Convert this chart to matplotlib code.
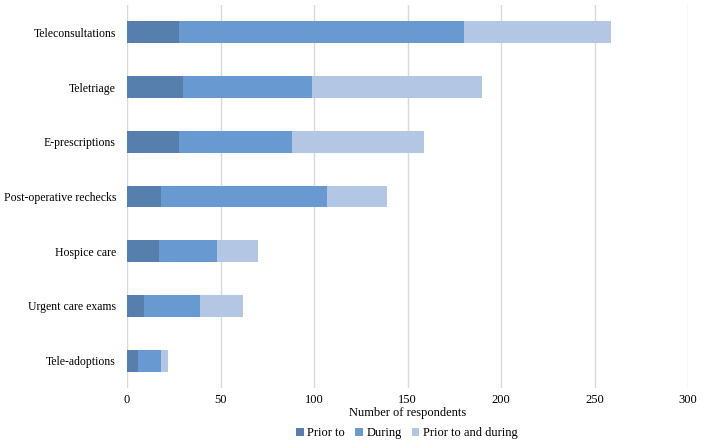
import matplotlib.pyplot as plt
import numpy as np

# Data
categories = ['Teleconsultations', 'Teletriage', 'E-prescriptions',
              'Post-operative rechecks', 'Hospice care', 'Urgent care exams',
              'Tele-adoptions']
prior_to = [28, 30, 28, 18, 17, 9, 6]
during = [152, 69, 60, 89, 31, 30, 12]
prior_and_during = [79, 91, 71, 32, 22, 23, 4]

series_names = ['Prior to', 'During', 'Prior to and during']
colors = ['#577fae', '#6899d0', '#b3c6e4']

plt.rcParams['font.family'] = ['Liberation Serif', 'DejaVu Serif']

fig = plt.figure(figsize=(7.08, 4.48), dpi=100)
ax = fig.add_axes([127 / 708, 1 - 388 / 448, (688 - 127) / 708, (388 - 5) / 448])

y = np.arange(len(categories))
left = np.zeros(len(categories))
for name, vals, c in zip(series_names, [prior_to, during, prior_and_during], colors):
    ax.barh(y, vals, left=left, height=0.4, color=c, label=name, zorder=3)
    left += np.array(vals)

ax.set_ylim(len(categories) - 0.5, -0.5)
ax.set_yticks(y)
ax.set_yticklabels(categories, fontsize=8.5)
ax.set_xlim(0, 300)
ax.set_xticks(range(0, 301, 50))
ax.tick_params(axis='x', labelsize=9, length=0, pad=4)
ax.tick_params(axis='y', length=0, pad=8)
ax.grid(axis='x', color='#d9d9d9', linewidth=1, zorder=0)
for s in ax.spines.values():
    s.set_visible(False)

ax.set_xlabel('Number of respondents', fontsize=9, labelpad=1)

fig.legend(loc='center', bbox_to_anchor=(407 / 708, 1 - 433 / 448), ncol=3,
           frameon=False, fontsize=9, handlelength=0.6, handleheight=0.6,
           handletextpad=0.3, columnspacing=0.8)

fig.savefig('out.png', dpi=100)
